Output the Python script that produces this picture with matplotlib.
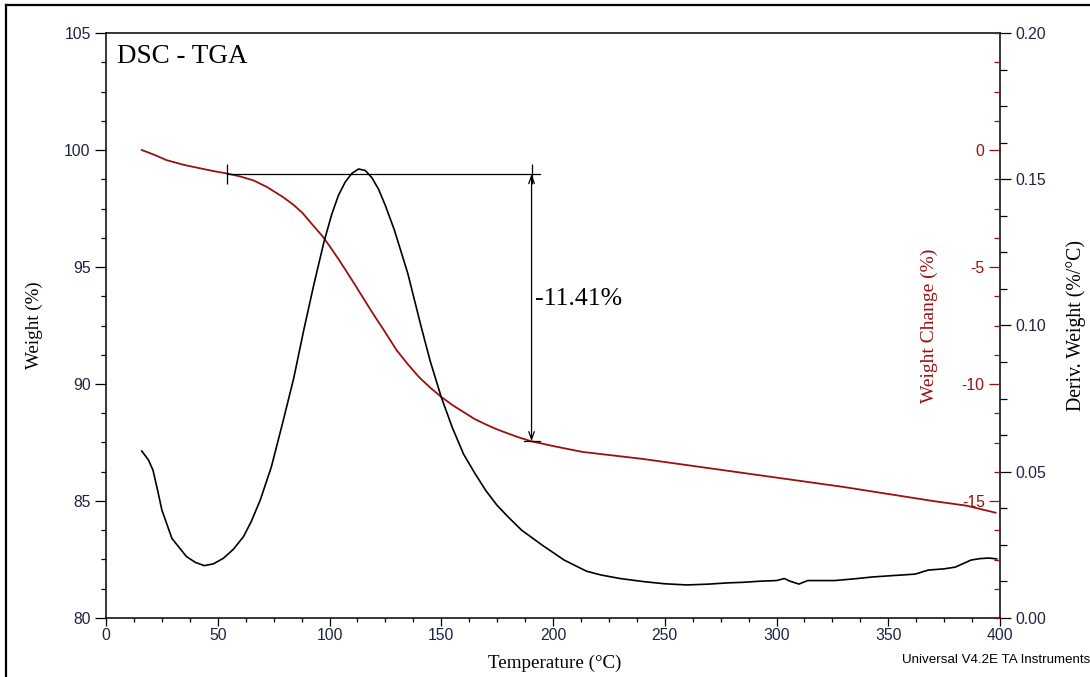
import numpy as np
import matplotlib.pyplot as plt
from matplotlib.ticker import MultipleLocator, FixedLocator
from matplotlib.lines import Line2D

plt.rcParams['axes.unicode_minus'] = False

# TGA weight curve (%)
temp_tga = [16, 22, 27, 35, 42, 48, 54, 60, 66, 72, 79, 84, 88, 92, 97, 100,
            104, 107, 111, 114, 118, 121, 124, 127, 130, 135, 140, 145, 150, 155,
            160, 165, 170, 175, 180, 185, 190, 200, 213, 240, 270, 300, 330, 350,
            370, 385, 398]
weight = [100.0, 99.78, 99.57, 99.36, 99.22, 99.1, 99.0, 98.87, 98.7, 98.42, 98.0,
          97.65, 97.3, 96.85, 96.3, 95.9, 95.34, 94.9, 94.3, 93.84, 93.23, 92.78,
          92.35, 91.9, 91.45, 90.85, 90.3, 89.85, 89.45, 89.1, 88.8, 88.5, 88.27,
          88.06, 87.88, 87.71, 87.56, 87.35, 87.1, 86.8, 86.4, 86.0, 85.6, 85.3,
          85.0, 84.8, 84.5]

# derivative weight curve (%/°C)
temp_dtg = [16, 19, 21, 23, 25, 29.5, 36, 40, 44, 48,
            52.5, 57, 61.5, 65, 69, 74, 79, 84, 88.5, 93,
            97.5, 101, 104, 107, 110, 113, 116, 119, 122, 125,
            129, 135, 141, 145, 150, 155, 160, 165, 170, 175,
            180, 186, 195, 205, 215, 221.5, 230, 241, 250, 260,
            270, 278, 285, 293, 300, 303.5, 306, 310, 314, 320,
            326, 335, 342.5, 352, 362, 368, 375, 380, 387, 391,
            395, 398.5]
deriv = [0.0571, 0.054, 0.0506, 0.044, 0.0369, 0.0272, 0.021, 0.019, 0.0179, 0.0185,
         0.0204, 0.0235, 0.0278, 0.033, 0.0403, 0.0517, 0.0666, 0.082, 0.0985, 0.114,
         0.1285, 0.138, 0.1445, 0.149, 0.152, 0.1535, 0.153, 0.1505, 0.1465, 0.141,
         0.1327, 0.1179, 0.0996, 0.088, 0.0755, 0.065, 0.056, 0.0495, 0.0435, 0.0385,
         0.0345, 0.030, 0.025, 0.0198, 0.016, 0.0147, 0.0135, 0.0124, 0.0117, 0.0113,
         0.0116, 0.012, 0.0122, 0.0126, 0.0128, 0.0135, 0.0126, 0.0116, 0.0128, 0.0128,
         0.0128, 0.0134, 0.014, 0.0145, 0.015, 0.0164, 0.0168, 0.0174, 0.0198, 0.0203,
         0.0205, 0.0202]

# weight step analysis
step_start, step_end = 54, 190.4
w_before, w_after = 98.97, 87.56
step_label = '-11.41%'

red = '#9a0f0f'
tick_col = '#1e2440'
serif = 'Liberation Serif'
sans = 'Liberation Sans'

fig = plt.figure(figsize=(10.9, 6.77), dpi=100)
W, H = 1090, 677
x0, x1, y0, y1 = 106, 1000, 33, 618
ax = fig.add_axes([x0 / W, (H - y1) / H, (x1 - x0) / W, (y1 - y0) / H])

# frame round the page
fig.add_artist(Line2D([6 / W, 6 / W], [0, 1 - 5 / H], color='black', lw=1.6))
fig.add_artist(Line2D([6 / W, 1], [1 - 5 / H, 1 - 5 / H], color='black', lw=1.6))

ax.plot(temp_tga, weight, color=red, lw=1.3, zorder=3)
ax.set_xlim(0, 400)
ax.set_ylim(80, 105)
ax.xaxis.set_major_locator(MultipleLocator(50))
ax.xaxis.set_minor_locator(MultipleLocator(12.5))
ax.yaxis.set_major_locator(MultipleLocator(5))
ax.yaxis.set_minor_locator(MultipleLocator(1.25))
ax.tick_params(which='major', direction='out', length=8, width=0.9, pad=3,
               labelsize=11.3, labelcolor=tick_col)
ax.tick_params(which='minor', direction='out', length=3.5, width=0.9)
ax.tick_params(axis='x', which='major', length=6, pad=1.5)
ax.tick_params(axis='x', which='minor', length=3)
for lab in ax.get_xticklabels() + ax.get_yticklabels():
    lab.set_fontfamily(sans)
for s in ['left', 'bottom', 'top']:
    ax.spines[s].set_linewidth(1.1)
ax.spines['right'].set_visible(False)

ax.set_xlabel('Temperature (°C)', family=serif, fontsize=13.7)
ax.xaxis.set_label_coords(0.502, -0.062)
ax.set_ylabel('Weight (%)', family=serif, fontsize=13.7)
ax.yaxis.set_label_coords(-0.070, 0.50)

ax.text(0.0123, 0.9487, 'DSC - TGA', transform=ax.transAxes, family=serif,
        fontsize=19.5, va='baseline', ha='left')

# derivative axis
ax2 = ax.twinx()
ax2.plot(temp_dtg, deriv, color='black', lw=1.2, zorder=2)
ax2.set_ylim(0, 0.2)
ax2.yaxis.set_major_locator(MultipleLocator(0.05))
ax2.yaxis.set_minor_locator(MultipleLocator(0.0125))
ax2.yaxis.set_major_formatter(plt.FuncFormatter(lambda v, p: f'{v:.2f}'))
ax2.tick_params(which='major', direction='out', length=8, width=0.9, pad=3,
                labelsize=11.3, labelcolor=tick_col)
ax2.tick_params(which='minor', direction='out', length=5, width=0.9)
for lab in ax2.get_yticklabels():
    lab.set_fontfamily(sans)
for s in ['left', 'bottom', 'top']:
    ax2.spines[s].set_visible(False)
ax2.spines['right'].set_linewidth(1.1)
ax2.set_ylabel('Deriv. Weight (%/°C)', family=serif, fontsize=14.2)
ax2.yaxis.set_label_coords(1.0735, 0.50)

# weight change axis, ticks on the inner side of the right spine
ax3 = ax.twinx()
ax3.set_ylim(-20, 5)
ax3.yaxis.set_ticks_position('left')
ax3.yaxis.set_label_position('left')
ax3.spines['left'].set_position(('axes', 1.0))
for s in ['left', 'right', 'bottom', 'top']:
    ax3.spines[s].set_visible(False)
ax3.yaxis.set_major_locator(FixedLocator([-15, -10, -5, 0]))
ax3.yaxis.set_minor_locator(MultipleLocator(1.25))
ax3.tick_params(which='major', direction='out', length=8, width=0.9, pad=3,
                labelsize=11.3, colors=red)
ax3.tick_params(which='minor', direction='out', length=4.5, width=0.9, colors=red)
for lab in ax3.get_yticklabels():
    lab.set_fontfamily(sans)
ax3.set_ylabel('Weight Change (%)', family=serif, fontsize=14, color=red)
ax3.yaxis.set_label_coords(0.931, 0.50)

# step change marker
ax.plot([step_start, step_end + 4], [w_before, w_before], color='black', lw=0.9, zorder=4)
ax.plot([step_start], [w_before], marker='|', ms=14, mew=0.9, color='black', zorder=4)
ax.plot([step_end], [w_before], marker='|', ms=14, mew=0.9, color='black', zorder=4)
ax.plot([step_end - 3.5, step_end + 4], [w_after, w_after], color='black', lw=0.9, zorder=4)
ax.annotate('', xy=(step_end, w_before), xytext=(step_end, w_after),
            arrowprops=dict(arrowstyle='<->,head_length=0.55,head_width=0.2',
                            color='black', lw=0.9, shrinkA=0, shrinkB=0), zorder=4)
ax.text(step_end + 1.5, 93.65, step_label, family=serif, fontsize=18.5,
        va='center', ha='left')

fig.text(902 / W, 1 - 663 / H, 'Universal V4.2E TA Instruments', family=sans,
         fontsize=9.6, va='baseline', ha='left')

fig.savefig('out.png', dpi=100)
